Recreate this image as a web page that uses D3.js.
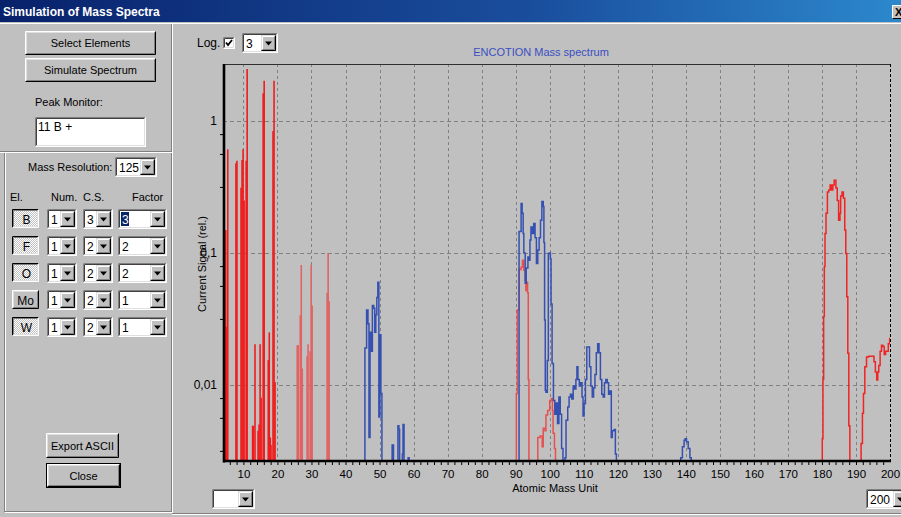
<!DOCTYPE html>
<html>
<head>
<meta charset="utf-8">
<script src="https://cdn.jsdelivr.net/npm/d3@7"></script>
<style>
body { margin: 0; background: #c0c0c0; overflow: hidden; }
text { font-family: "Liberation Sans", Arial, sans-serif; }
</style>
</head>
<body>
<script>
// ---- chart values ----
var xTicks = [10, 20, 30, 40, 50, 60, 70, 80, 90, 100, 110, 120, 130, 140, 150, 160, 170, 180, 190, 200];
var yTicks = [1, 0.1, 0.01];
var yTickLabels = ["1", "0,1", "0,01"];

// single lines (mass, rel. signal)
var redPeaks = [[4.8,0.149],[5.1,0.0275],[5.4,0.61],[7.8,0.478],[8.1,0.5],[9.3,0.312],[9.6,0.506],[9.9,0.61],
  [10.2,0.25],[10.8,0.5],[11.1,2.47],[12.7,0.0049],[12.9,0.0049],[13.4,0.0203],[14.3,0.0045],[14.6,0.005],
  [14.9,0.0203],[15.2,0.008],[15.8,1.62],[16.1,2.02],[17.3,0.0154],[17.6,0.025],[17.9,0.004],[18.1,0.0035],
  [18.7,0.84],[19.0,2.02],[19.3,0.0105]];
var redPeaksLight = [[25.8,0.02],[26.1,0.02],[26.7,0.0337],[27.0,0.081],[27.3,0.0133],[28.7,0.0165],[29.0,0.0203],
  [29.6,0.018],[29.9,0.081],[30.2,0.04],[34.6,0.05],[34.9,0.1],[35.2,0.043]];

// profiles (0.001 = below the plot floor)
var blueLow = [[45.6,0.001],[45.7,0.019],[46.2,0.037],[46.6,0.029],[46.9,0.004],[47.2,0.025],[47.6,0.018],
  [47.9,0.04],[48.3,0.038],[48.6,0.025],[48.9,0.034],[49.2,0.046],[49.5,0.06],[49.8,0.0057],[50.1,0.024],
  [50.4,0.0086],[50.7,0.001],[53.6,0.001],[53.7,0.0035],[54.1,0.001],[55.3,0.001],[55.4,0.0049],[55.7,0.0046],
  [55.9,0.001],[56.6,0.001],[56.7,0.003],[56.9,0.005],[57.2,0.001],[58.3,0.001],[58.4,0.0028],[58.7,0.0026],[58.9,0.001]];
var redMid = [[90.0,0.001],[90.2,0.0086],[90.5,0.037],[91.0,0.075],[91.6,0.078],[92.0,0.088],[92.4,0.074],
  [92.8,0.062],[93.0,0.052],[93.2,0.06],[93.5,0.05],[93.7,0.011],[93.9,0.001],[96.4,0.001],[96.5,0.004],
  [97.2,0.0041],[97.8,0.0034],[98.1,0.0047],[98.6,0.0045],[98.9,0.0059],[99.4,0.0064],[100.0,0.0076],
  [100.5,0.0079],[100.8,0.0064],[101.0,0.0043],[101.4,0.0033],[101.7,0.001]];
var blueMid = [[90.9,0.001],[91.0,0.145],[91.6,0.237],[91.9,0.2],[92.2,0.14],[92.4,0.1],[92.8,0.059],[93.1,0.077],
  [93.6,0.093],[93.9,0.088],[94.2,0.125],[94.5,0.157],[94.9,0.14],[95.3,0.167],[95.7,0.13],[96.1,0.083],
  [96.5,0.105],[96.9,0.13],[97.3,0.177],[97.7,0.245],[98.1,0.225],[98.3,0.12],[98.5,0.031],[98.7,0.0091],
  [98.9,0.0088],[99.3,0.0153],[99.6,0.099],[99.9,0.1],[100.2,0.09],[100.4,0.041],[100.7,0.0145],[101.1,0.0076],
  [101.5,0.006],[101.9,0.0073],[102.3,0.0051],[102.7,0.0081],[103.1,0.006],[103.5,0.0033],[103.9,0.0025],
  [104.5,0.0028],[104.8,0.0054],[105.3,0.0068],[105.7,0.0081],[106.1,0.0085],[106.5,0.0078],[106.9,0.0098],
  [107.3,0.0093],[107.7,0.011],[108.0,0.0137],[108.3,0.011],[108.7,0.0098],[109.1,0.0104],[109.5,0.0081],
  [109.8,0.0058],[110.1,0.0072],[110.5,0.011],[110.9,0.0194],[111.3,0.0194],[111.7,0.0137],[112.1,0.0098],
  [112.5,0.0081],[112.9,0.0095],[113.3,0.012],[113.7,0.0175],[114.1,0.0205],[114.5,0.0175],[114.9,0.011],
  [115.3,0.0085],[115.7,0.0081],[116.1,0.0104],[116.5,0.011],[116.9,0.0104],[117.3,0.0085],[117.7,0.009],
  [118.1,0.004],[118.4,0.0045],[118.9,0.0046],[119.3,0.003],[119.6,0.001]];
var blue140 = [[138.2,0.001],[138.5,0.0028],[139.0,0.0034],[139.5,0.0038],[139.8,0.0039],[140.2,0.0037],
  [140.7,0.0033],[141.2,0.0028],[141.6,0.001]];
var redHigh = [[180.0,0.001],[180.1,0.0039],[180.3,0.011],[180.5,0.033],[180.7,0.079],[180.9,0.14],[181.2,0.2],
  [181.6,0.29],[182.0,0.3],[182.4,0.327],[182.8,0.3],[183.2,0.327],[183.6,0.356],[183.9,0.356],[184.1,0.31],
  [184.5,0.25],[184.9,0.177],[185.3,0.2],[185.5,0.27],[185.9,0.29],[186.3,0.26],[186.7,0.149],[187.0,0.099],
  [187.3,0.0465],[187.6,0.0174],[187.9,0.0049],[188.2,0.001],[191.4,0.001],[191.5,0.0036],[191.9,0.0061],
  [192.2,0.0086],[192.6,0.0137],[193.1,0.0163],[193.7,0.0165],[194.3,0.0165],[194.9,0.0165],[195.3,0.015],
  [195.7,0.0125],[196.1,0.0109],[196.4,0.0125],[196.7,0.014],[197.1,0.018],[197.5,0.02],[197.9,0.0195],
  [198.3,0.017],[198.7,0.018],[199.1,0.018],[199.5,0.0205],[199.9,0.0225],[200.0,0.0225]];

// ---- window ----
var W = 901, H = 517;
var svg = d3.select("body").append("svg").attr("width", W).attr("height", H);
svg.append("rect").attr("width", W).attr("height", H).attr("fill", "#c0c0c0");

var defs = svg.append("defs");
var grad = defs.append("linearGradient").attr("id", "tb");
grad.append("stop").attr("offset", 0).attr("stop-color", "#08216b");
grad.append("stop").attr("offset", 0.6).attr("stop-color", "#1a4f9e");
grad.append("stop").attr("offset", 1).attr("stop-color", "#2c88cc");
var dither = defs.append("pattern").attr("id", "dither").attr("width", 2).attr("height", 2)
  .attr("patternUnits", "userSpaceOnUse");
dither.append("rect").attr("width", 2).attr("height", 2).attr("fill", "#c0c0c0");
dither.append("rect").attr("width", 1).attr("height", 1).attr("fill", "#ffffff");
dither.append("rect").attr("x", 1).attr("y", 1).attr("width", 1).attr("height", 1).attr("fill", "#ffffff");

svg.append("rect").attr("width", W).attr("height", 22).attr("fill", "url(#tb)");
svg.append("text").attr("x", 3).attr("y", 16).attr("fill", "#fff")
  .style("font-size", "12px").style("font-weight", "bold").text("Simulation of Mass Spectra");
svg.append("line").attr("x1", 0).attr("x2", W).attr("y1", 23.5).attr("y2", 23.5).attr("stroke", "#fff");

// win95 style helpers
function edge(g, x, y, w, h, tl, br) {
  g.append("path").attr("d", "M" + (x + .5) + "," + (y + h - .5) + "V" + (y + .5) + "H" + (x + w - .5))
    .attr("fill", "none").attr("stroke", tl);
  g.append("path").attr("d", "M" + (x + .5) + "," + (y + h - .5) + "H" + (x + w - .5) + "V" + (y + .5))
    .attr("fill", "none").attr("stroke", br);
}
function label(g, x, y, s, anchor, size) {
  return g.append("text").attr("x", x).attr("y", y).attr("text-anchor", anchor || "start")
    .style("font-size", (size || 11) + "px").attr("fill", "#000").text(s);
}
function button(x, y, w, h, s, isDefault) {
  var g = svg.append("g");
  g.append("rect").attr("x", x).attr("y", y).attr("width", w).attr("height", h).attr("fill", "#c0c0c0");
  if (isDefault) {
    g.append("rect").attr("x", x + .5).attr("y", y + .5).attr("width", w - 1).attr("height", h - 1)
      .attr("fill", "none").attr("stroke", "#000");
    x += 1; y += 1; w -= 2; h -= 2;
  }
  edge(g, x, y, w, h, "#fff", "#000");
  edge(g, x + 1, y + 1, w - 2, h - 2, "#dfdfdf", "#808080");
  label(g, x + w / 2, y + h / 2 + 4, s, "middle");
}
function toggle(x, y, w, h, s, down) {
  var g = svg.append("g");
  g.append("rect").attr("x", x).attr("y", y).attr("width", w).attr("height", h)
    .attr("fill", down ? "url(#dither)" : "#c0c0c0");
  if (down) {
    edge(g, x, y, w, h, "#000", "#fff");
    edge(g, x + 1, y + 1, w - 2, h - 2, "#808080", "#dfdfdf");
  } else {
    edge(g, x, y, w, h, "#fff", "#000");
    edge(g, x + 1, y + 1, w - 2, h - 2, "#dfdfdf", "#808080");
  }
  label(g, x + w / 2 + (down ? 1 : 0), y + h / 2 + 5, s, "middle", 12);
}
function sunken(g, x, y, w, h) {
  g.append("rect").attr("x", x).attr("y", y).attr("width", w).attr("height", h).attr("fill", "#fff");
  edge(g, x, y, w, h, "#808080", "#fff");
  edge(g, x + 1, y + 1, w - 2, h - 2, "#404040", "#dfdfdf");
}
function combo(x, y, w, h, s, selected) {
  var g = svg.append("g");
  sunken(g, x, y, w, h);
  var bx = x + w - 17, by = y + 2, bw = 15, bh = h - 4;
  g.append("rect").attr("x", bx).attr("y", by).attr("width", bw).attr("height", bh).attr("fill", "#c0c0c0");
  edge(g, bx, by, bw, bh, "#dfdfdf", "#000");
  edge(g, bx + 1, by + 1, bw - 2, bh - 2, "#fff", "#808080");
  var cx = bx + bw / 2, cy = by + bh / 2;
  g.append("path").attr("d", "M" + (cx - 3.5) + "," + (cy - 1.5) + "h7l-3.5,4z").attr("fill", "#000");
  if (s) {
    if (selected) {
      g.append("rect").attr("x", x + 3).attr("y", y + 3).attr("width", 8).attr("height", h - 6).attr("fill", "#0a246a");
    }
    label(g, x + 4, y + h / 2 + 5, s, "start", 12).attr("fill", selected ? "#fff" : "#000");
  }
}
function etchH(x1, x2, y) {
  svg.append("line").attr("x1", x1).attr("x2", x2).attr("y1", y + .5).attr("y2", y + .5).attr("stroke", "#808080");
  svg.append("line").attr("x1", x1).attr("x2", x2).attr("y1", y + 1.5).attr("y2", y + 1.5).attr("stroke", "#fff");
}
function etchV(x, y1, y2) {
  svg.append("line").attr("x1", x + .5).attr("x2", x + .5).attr("y1", y1).attr("y2", y2).attr("stroke", "#808080");
  svg.append("line").attr("x1", x + 1.5).attr("x2", x + 1.5).attr("y1", y1).attr("y2", y2).attr("stroke", "#fff");
}

// close box in title bar
(function () {
  var g = svg.append("g");
  g.append("rect").attr("x", 892).attr("y", 5).attr("width", 16).attr("height", 14).attr("fill", "#c0c0c0");
  edge(g, 892, 5, 16, 14, "#fff", "#000");
  label(g, 895, 16, "X", "start", 11).style("font-weight", "bold");
})();

// ---- left panel ----
etchV(171, 24, 513);
etchH(0, 172, 151);
etchV(4, 153, 512);
etchH(5, 172, 511);
etchH(172, W, 513);

button(25, 31, 131, 24, "Select Elements");
button(25, 58, 131, 24, "Simulate Spectrum");
label(svg, 35, 106, "Peak Monitor:");
(function () {
  var g = svg.append("g");
  sunken(g, 35, 117, 111, 30);
  label(g, 38, 131, "11 B +", "start", 12);
})();

label(svg, 28, 171, "Mass Resolution:", "start", 11);
combo(115, 157, 42, 20, "125");
label(svg, 10, 201, "El.");
label(svg, 51, 201, "Num.");
label(svg, 83, 201, "C.S.");
label(svg, 132, 201, "Factor");

var rowEl = ["B", "F", "O", "Mo", "W"];
var rowNum = ["1", "1", "1", "1", "1"];
var rowCS = ["3", "2", "2", "2", "2"];
var rowFactor = ["3", "2", "2", "1", "1"];
rowEl.forEach(function (el, i) {
  var y0 = 209 + i * 27;
  toggle(12, y0, 27, 19, el, el !== "Mo");
  combo(47, y0, 30, 20, rowNum[i]);
  combo(83, y0, 30, 20, rowCS[i]);
  combo(118, y0, 49, 20, rowFactor[i], i === 0);
});

button(46, 433, 73, 25, "Export ASCII");
button(46, 463, 75, 25, "Close", true);

// ---- chart controls ----
label(svg, 197, 47, "Log.", "start", 12);
(function () {
  var g = svg.append("g");
  sunken(g, 223, 37, 12, 12);
  g.append("path").attr("d", "M226,42.5l2,2.5l4,-5").attr("fill", "none").attr("stroke", "#000").attr("stroke-width", 1.8);
})();
combo(242, 33, 36, 20, "3");
combo(212, 489, 43, 20, "");
combo(866, 489, 44, 20, "200");

// ---- plot ----
var pLeft = 223, pRight = 890, pTop = 64, pBottom = 461;
var x = d3.scaleLinear().domain([4, 200]).range([pLeft, pRight]);
var y = d3.scaleLog().domain([0.00265, 2.7]).range([pBottom, pTop]).clamp(true);

var plot = svg.append("g");
defs.append("clipPath").attr("id", "clip").append("rect")
  .attr("x", pLeft).attr("y", pTop).attr("width", pRight - pLeft).attr("height", pBottom - pTop);

// grid
plot.append("g").selectAll("line").data(xTicks.filter(function (d) { return d < 200; })).join("line")
  .attr("x1", function (d) { return Math.round(x(d)) + .5; }).attr("x2", function (d) { return Math.round(x(d)) + .5; })
  .attr("y1", pTop).attr("y2", pBottom).attr("stroke", "#808080").attr("stroke-dasharray", "3,3");
plot.append("g").selectAll("line").data(yTicks).join("line")
  .attr("x1", pLeft).attr("x2", pRight)
  .attr("y1", function (d) { return Math.round(y(d)) + .5; }).attr("y2", function (d) { return Math.round(y(d)) + .5; })
  .attr("stroke", "#808080").attr("stroke-dasharray", "4,3");
plot.append("line").attr("x1", pLeft).attr("x2", pRight).attr("y1", pTop + .5).attr("y2", pTop + .5).attr("stroke", "#303030");
plot.append("line").attr("x1", pRight + .5).attr("x2", pRight + .5).attr("y1", pTop).attr("y2", pBottom)
  .attr("stroke", "#000").attr("stroke-dasharray", "3,2");

// data
var data = plot.append("g").attr("clip-path", "url(#clip)");
function spikes(arr, color) {
  data.append("g").selectAll("line").data(arr).join("line")
    .attr("x1", function (d) { return x(d[0]); }).attr("x2", function (d) { return x(d[0]); })
    .attr("y1", pBottom).attr("y2", function (d) { return y(d[1]); })
    .attr("stroke", color).attr("stroke-width", 1.6);
}
var line = d3.line().x(function (d) { return x(d[0]); }).y(function (d) { return y(d[1]); }).curve(d3.curveStepAfter);
function profile(arr, color, w) {
  data.append("path").datum(arr).attr("d", line).attr("fill", "none")
    .attr("stroke", color).attr("stroke-width", w || 1.5);
}
spikes(redPeaksLight, "#e06464");
spikes(redPeaks, "#f01c1c");
profile(blueLow, "#3550b0");
profile(redMid, "#e85050");
profile(blueMid, "#3550b0");
profile(blue140, "#3550b0");
profile(redHigh, "#f02424");

// axes
var xAxis = plot.append("g").attr("transform", "translate(0," + pBottom + ")")
  .call(d3.axisBottom(x).tickValues(xTicks).tickSize(0).tickPadding(9).tickFormat(d3.format("d")));
xAxis.select(".domain").remove();
xAxis.selectAll("text").style("font-size", "11.5px").attr("fill", "#000");
var xMinor = plot.append("g").attr("transform", "translate(0," + pBottom + ")")
  .call(d3.axisBottom(x).tickValues(d3.range(6, 200, 2)).tickSize(4).tickFormat(""));
xMinor.select(".domain").remove();

var yAxis = plot.append("g").attr("transform", "translate(" + (pLeft - 1) + ",0)")
  .call(d3.axisLeft(y).tickValues(yTicks).tickSize(0).tickPadding(5)
    .tickFormat(function (d, i) { return yTickLabels[i]; }));
yAxis.select(".domain").remove();
yAxis.selectAll("text").style("font-size", "12px").attr("fill", "#000");
var yMinorVals = [];
[10, 1, 0.1, 0.01].forEach(function (p) {
  [-0.1, -0.25, -0.5].forEach(function (f) { yMinorVals.push(p * Math.pow(10, f)); });
});
var yMinor = plot.append("g").attr("transform", "translate(" + pLeft + ",0)")
  .call(d3.axisLeft(y).tickValues(yMinorVals.filter(function (v) { return v > 0.00265 && v < 2.7; }))
    .tickSize(3).tickFormat(""));
yMinor.select(".domain").remove();

plot.append("line").attr("x1", pLeft + 1).attr("x2", pLeft + 1).attr("y1", pTop).attr("y2", pBottom + 1.5)
  .attr("stroke", "#000").attr("stroke-width", 2.6);
plot.append("line").attr("x1", pLeft).attr("x2", pRight + 1).attr("y1", pBottom).attr("y2", pBottom)
  .attr("stroke", "#000").attr("stroke-width", 2.6);

// titles
svg.append("text").attr("x", 541).attr("y", 56).attr("text-anchor", "middle")
  .style("font-size", "11px").attr("fill", "#3a4fc0").text("ENCOTION Mass spectrum");
svg.append("text").attr("x", 555).attr("y", 492).attr("text-anchor", "middle")
  .style("font-size", "11px").attr("fill", "#000").text("Atomic Mass Unit");
svg.append("text").attr("transform", "translate(206,264) rotate(-90)").attr("text-anchor", "middle")
  .style("font-size", "11px").attr("fill", "#000").text("Current Signal (rel.)");
</script>
</body>
</html>
